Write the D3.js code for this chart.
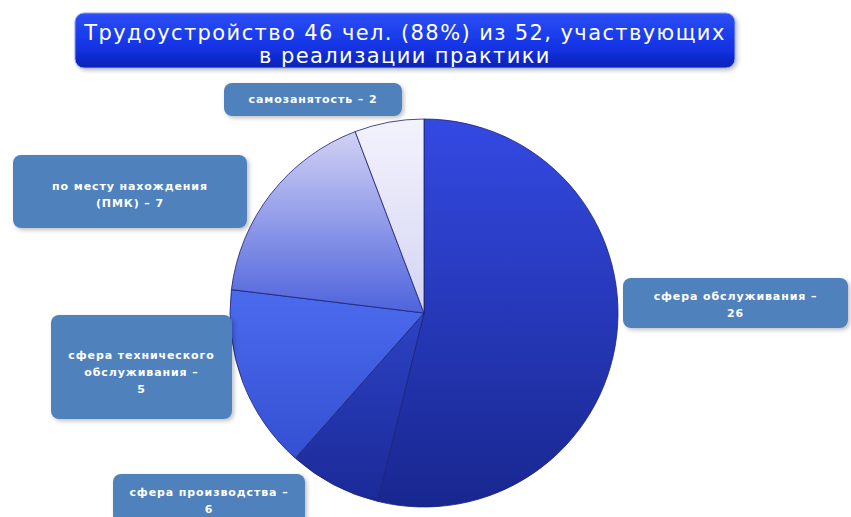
<!DOCTYPE html>
<html>
<head>
<meta charset="utf-8">
<script src="https://cdn.jsdelivr.net/npm/d3@7"></script>
<style>
  body { margin: 0; background: #ffffff; }
  svg { display: block; }
</style>
</head>
<body>
<div class="pie-chart-container"></div>
<script>
// Categories, clockwise from 12 o'clock
const categories = ['обслуживание', 'производство', 'техническое', 'пмк', 'самозанятость'];
// Slice sizes (out of 52)
const sliceValues = [28, 4, 8, 9, 3];
// Label texts exactly as typed on the slide
const labelLines = [
   ['сфера обслуживания –', '26'],
   ['сфера производства –', '6'],
   ['сфера технического', 'обслуживания –', '5'],
   ['по месту нахождения', '(ПМК) – 7'],
   ['самозанятость – 2']
];
const titleLines = ['Трудоустройство 46 чел. (88%) из 52, участвующих', 'в реализации практики'];

const sliceColors = [
   ['#3449e2', '#18278f'],
   ['#2d42c4', '#1b2a98'],
   ['#4b6bee', '#3550d2'],
   ['#d2d2f5', '#4e63dc'],
   ['#f3f3fd', '#d4d4f3']
];

function build_svg(width, height) {
   return d3.select('.pie-chart-container')
      .append('svg')
      .attr('width', width)
      .attr('height', height);
}

function add_defs(svg) {
   const defs = svg.append('defs');
   const shadow = defs.append('filter').attr('id', 'shadow')
      .attr('x', '-10%').attr('y', '-10%').attr('width', '125%').attr('height', '140%');
   shadow.append('feDropShadow')
      .attr('dx', 2).attr('dy', 2).attr('stdDeviation', 2)
      .attr('flood-color', '#000').attr('flood-opacity', 0.25);

   const tg = defs.append('linearGradient').attr('id', 'title-grad')
      .attr('x1', 0).attr('y1', 0).attr('x2', 0).attr('y2', 1);
   tg.append('stop').attr('offset', '0%').attr('stop-color', '#2c4ff5');
   tg.append('stop').attr('offset', '60%').attr('stop-color', '#1434e6');
   tg.append('stop').attr('offset', '100%').attr('stop-color', '#0c22b8');

   sliceColors.forEach((c, i) => {
      const g = defs.append('linearGradient').attr('id', 'slice-' + i)
         .attr('x1', 0).attr('y1', 0).attr('x2', 0).attr('y2', 1);
      g.append('stop').attr('offset', '0%').attr('stop-color', c[0]);
      g.append('stop').attr('offset', '100%').attr('stop-color', c[1]);
   });
}

function draw_title(svg) {
   svg.append('rect')
      .attr('x', 75).attr('y', 13)
      .attr('width', 660).attr('height', 55)
      .attr('rx', 9)
      .attr('fill', 'url(#title-grad)')
      .attr('stroke', '#8fa4f7').attr('stroke-width', 1)
      .attr('filter', 'url(#shadow)');
   svg.append('text')
      .attr('x', 405).attr('y', 40)
      .attr('text-anchor', 'middle')
      .attr('fill', '#ffffff')
      .style('font', '21px "DejaVu Sans"')
      .style('letter-spacing', '1.4px')
      .selectAll('tspan')
      .data(titleLines)
      .enter()
      .append('tspan')
      .attr('x', 405)
      .attr('dy', (d, i) => i === 0 ? 0 : 23)
      .text(d => d);
}

function draw_pie(svg, cx, cy, radius) {
   const pie = d3.pie().sort(null).value(d => d);
   const arc = d3.arc().innerRadius(0).outerRadius(radius);
   svg.append('g')
      .attr('transform', `translate(${cx}, ${cy})`)
      .selectAll('path')
      .data(pie(sliceValues))
      .enter()
      .append('path')
      .attr('d', arc)
      .attr('fill', (d, i) => `url(#slice-${i})`)
      .attr('stroke', '#1a2272')
      .attr('stroke-width', 0.8);
}

function draw_labels(svg) {
   // label boxes: [x, y, w, h, first baseline]
   const boxes = [
      [623, 278, 225, 50, 300],
      [113, 474, 192, 50, 496],
      [51, 315, 181, 104, 359],
      [13, 155, 234, 73, 190],
      [224, 83, 178, 33, 103]
   ];
   const g = svg.selectAll('.label')
      .data(labelLines)
      .enter()
      .append('g')
      .attr('class', 'label');
   g.append('rect')
      .attr('x', (d, i) => boxes[i][0])
      .attr('y', (d, i) => boxes[i][1])
      .attr('width', (d, i) => boxes[i][2])
      .attr('height', (d, i) => boxes[i][3])
      .attr('rx', 8)
      .attr('fill', '#4f81bd')
      .attr('filter', 'url(#shadow)');
   g.append('text')
      .attr('text-anchor', 'middle')
      .attr('fill', '#ffffff')
      .style('font', 'bold 11px "DejaVu Sans"')
      .style('letter-spacing', '0.9px')
      .each(function (d, i) {
         const b = boxes[i];
         d3.select(this).selectAll('tspan')
            .data(d)
            .enter()
            .append('tspan')
            .attr('x', b[0] + b[2] / 2)
            .attr('y', (t, j) => b[4] + j * 17)
            .text(t => t);
      });
}

function build_chart() {
   const width = 851;
   const height = 517;
   const svg = build_svg(width, height);
   add_defs(svg);
   draw_pie(svg, 424, 313, 194);
   draw_labels(svg);
   draw_title(svg);
}

build_chart();
</script>
</body>
</html>
